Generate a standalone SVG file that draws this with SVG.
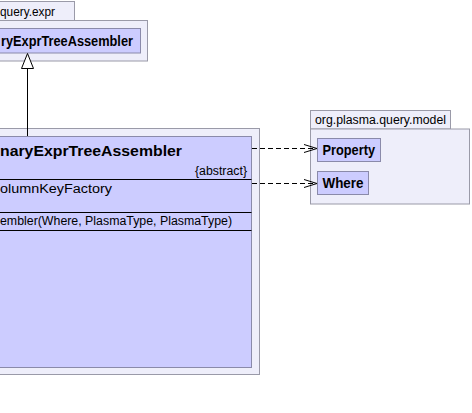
<svg xmlns="http://www.w3.org/2000/svg" width="472" height="413" viewBox="0 0 472 413">
<style>
.pkg{fill:#EEEEFA;stroke:#9A9AA8;stroke-width:1}
.cls{fill:#CCCCFF;stroke:#8A8AAA;stroke-width:1}
.sep{stroke:#000;stroke-width:1}
.t{font-family:"Liberation Sans",Arial,sans-serif;fill:#000}
.b{font-weight:bold}
.dep{fill:none;stroke:#000;stroke-width:1;stroke-dasharray:5,3}
.head{fill:none;stroke:#000;stroke-width:1}
</style>
<rect width="472" height="413" fill="#FFFFFF"/>
<g id="pkg-expr">
<rect class="pkg" x="-10" y="1.5" width="84.5" height="19"/>
<rect class="pkg" x="-10" y="20.5" width="157.5" height="40.5"/>
<text class="t" x="0" y="16" font-size="12.5" textLength="55" lengthAdjust="spacingAndGlyphs">query.expr</text>
</g>
<g id="node-base">
<rect class="cls" x="-10" y="28.5" width="150.5" height="24.5"/>
<text class="t b" x="1" y="46" font-size="14" textLength="132" lengthAdjust="spacingAndGlyphs">ryExprTreeAssembler</text>
</g>
<g id="pkg-main">
<rect class="pkg" x="-10" y="128.5" width="269.5" height="246"/>
</g>
<g id="node-main">
<rect class="cls" x="-10" y="136.5" width="261.5" height="231"/>
<text class="t b" x="0" y="156" font-size="15.5" textLength="182" lengthAdjust="spacingAndGlyphs">naryExprTreeAssembler</text>
<text class="t" x="247" y="175" font-size="12.5" textLength="52" lengthAdjust="spacingAndGlyphs" text-anchor="end">{abstract}</text>
<line class="sep" x1="-10" y1="179.5" x2="251.5" y2="179.5"/>
<text class="t" x="0" y="193" font-size="12.5" textLength="112" lengthAdjust="spacingAndGlyphs">olumnKeyFactory</text>
<line class="sep" x1="-10" y1="212.5" x2="251.5" y2="212.5"/>
<text class="t" x="0" y="225" font-size="12.5" textLength="232" lengthAdjust="spacingAndGlyphs">embler(Where, PlasmaType, PlasmaType)</text>
<line class="sep" x1="-10" y1="230.5" x2="251.5" y2="230.5"/>
</g>
<g id="pkg-model">
<rect class="pkg" x="310.5" y="110.5" width="140" height="18.5"/>
<rect class="pkg" x="310.5" y="129" width="159" height="75"/>
<text class="t" x="315" y="124" font-size="12.5" textLength="131" lengthAdjust="spacingAndGlyphs">org.plasma.query.model</text>
</g>
<g id="node-property">
<rect class="cls" x="317.5" y="138.5" width="63" height="23"/>
<text class="t b" x="322.5" y="154.5" font-size="14" textLength="52.5" lengthAdjust="spacingAndGlyphs">Property</text>
</g>
<g id="node-where">
<rect class="cls" x="317.5" y="171.5" width="51" height="23"/>
<text class="t b" x="322.5" y="188" font-size="14" textLength="41" lengthAdjust="spacingAndGlyphs">Where</text>
</g>
<g id="connectors">
<line x1="27.5" y1="136" x2="27.5" y2="68" stroke="#000" stroke-width="1"/>
<polygon points="27.5,53.5 21.5,68.5 33.5,68.5" fill="#FFFFFF" stroke="#000" stroke-width="1"/>
<line class="dep" x1="252" y1="148.5" x2="316.5" y2="148.5"/>
<polyline class="head" points="304,144.5 317,148.5 304,152.5"/>
<line class="dep" x1="252" y1="183.5" x2="316.5" y2="183.5"/>
<polyline class="head" points="304,179.5 317,183.5 304,187.5"/>
</g>
</svg>
